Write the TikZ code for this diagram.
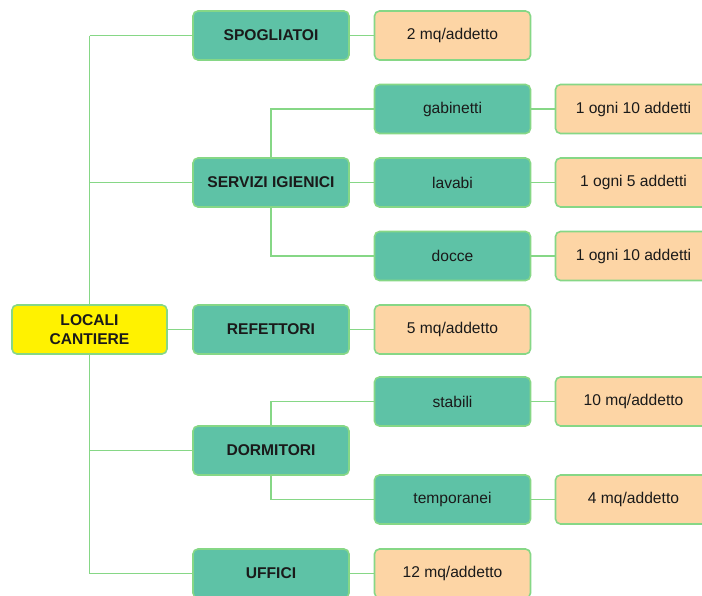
\documentclass[tikz,border=0pt]{standalone}
\usepackage{fontspec}
\setmainfont{Liberation Sans}
\usetikzlibrary{backgrounds}
\definecolor{boxgreen}{HTML}{5EC2A6}
\definecolor{edgegreen}{HTML}{86D786}
\definecolor{boxorange}{HTML}{FDD5A5}
\definecolor{boxyellow}{HTML}{FFF200}
\definecolor{txt}{HTML}{1A1A1A}
\begin{document}
\begin{tikzpicture}[x=1pt,y=-1pt,
  base/.style={draw=edgegreen, line width=1.6pt, rounded corners=5pt,
    minimum width=156pt, minimum height=49pt, inner sep=0pt, align=center,
    text=txt, font=\fontsize{15.6}{18.5}\selectfont},
  mainbox/.style={base, fill=boxgreen, font=\fontsize{15.6}{18.5}\selectfont\bfseries},
  subbox/.style={base, fill=boxgreen},
  valbox/.style={base, fill=boxorange},
  rootbox/.style={base, fill=boxyellow, minimum width=155pt, font=\fontsize{15.6}{18.5}\selectfont\bfseries},
  link/.style={draw=edgegreen, line width=1.8pt}]
\useasboundingbox (0,0) rectangle (702,595);
\clip (0,0) rectangle (702,595);

\node[rootbox] (root) at (89.5,329.5) {LOCALI\\CANTIERE};

\node[mainbox] (spo) at (271,35.5) {SPOGLIATOI};
\node[valbox]  (spoV) at (452.5,35.5) {2 mq/addetto};

\node[mainbox] (ser) at (271,182.5) {SERVIZI IGIENICI};
\node[subbox]  (gab) at (452.5,109) {gabinetti};
\node[valbox]  (gabV) at (633.5,109) {1 ogni 10 addetti};
\node[subbox]  (lav) at (452.5,182.5) {lavabi};
\node[valbox]  (lavV) at (633.5,182.5) {1 ogni 5 addetti};
\node[subbox]  (doc) at (452.5,256) {docce};
\node[valbox]  (docV) at (633.5,256) {1 ogni 10 addetti};

\node[mainbox] (ref) at (271,329.5) {REFETTORI};
\node[valbox]  (refV) at (452.5,329.5) {5 mq/addetto};

\node[mainbox] (dor) at (271,450.5) {DORMITORI};
\node[subbox]  (sta) at (452.5,401.5) {stabili};
\node[valbox]  (staV) at (633.5,401.5) {10 mq/addetto};
\node[subbox]  (tem) at (452.5,499.5) {temporanei};
\node[valbox]  (temV) at (633.5,499.5) {4 mq/addetto};

\node[mainbox] (uff) at (271,573.5) {UFFICI};
\node[valbox]  (uffV) at (452.5,573.5) {12 mq/addetto};

\begin{pgfonlayer}{background}
  \draw[link] (spo.west -| root) -- (uff.west -| root);
  \draw[link] (spo.west -| root) -- (spo.west);
  \draw[link] (ser.west -| root) -- (ser.west);
  \draw[link] (root) -- (ref);
  \draw[link] (dor.west -| root) -- (dor.west);
  \draw[link] (uff.west -| root) -- (uff.west);
  \draw[link] (spo) -- (spoV);
  \draw[link] (ref) -- (refV);
  \draw[link] (uff) -- (uffV);
  \draw[link] (ser) |- (gab);
  \draw[link] (ser) -- (lav);
  \draw[link] (ser) |- (doc);
  \draw[link] (gab) -- (gabV);
  \draw[link] (lav) -- (lavV);
  \draw[link] (doc) -- (docV);
  \draw[link] (dor) |- (sta);
  \draw[link] (dor) |- (tem);
  \draw[link] (sta) -- (staV);
  \draw[link] (tem) -- (temV);
\end{pgfonlayer}
\end{tikzpicture}
\end{document}
